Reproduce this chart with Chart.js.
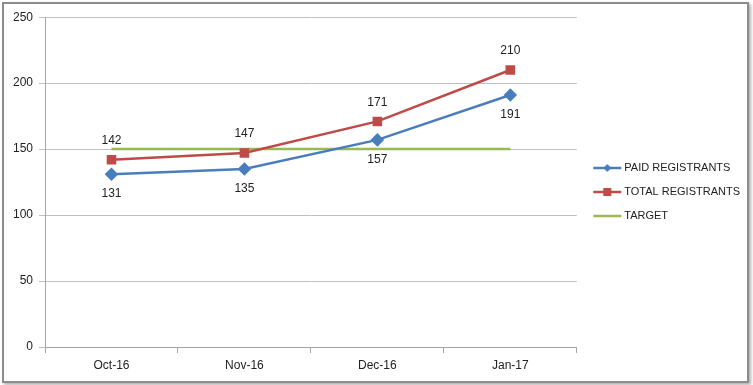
<!DOCTYPE html>
<html>
<head>
<meta charset="utf-8">
<script src="https://cdn.jsdelivr.net/npm/chart.js@4"></script>
<style>
	body { margin: 0; background: #fff; }
	#box {
		position: absolute; left: 2px; top: 2px; width: 743px; height: 377px;
		border: 2px solid #8c8c8c; box-shadow: 2px 2px 3px #b0b0b0; background: #fff;
	}
	#canvas { display: block; }
</style>
</head>
<body>
<div id="box"><canvas id="canvas" width="743" height="377"></canvas></div>
<script>
const meses = ["Oct-16", "Nov-16", "Dec-16", "Jan-17"];
const pagados = [131, 135, 157, 191];
const totales = [142, 147, 171, 210];
const objetivo = [150, 150, 150, 150];
const ticks_y = [0, 50, 100, 150, 200, 250];

const azul = "#4a7ebb";
const rojo = "#be4b48";
const verde = "#98b954";
const fuente = "'Liberation Sans', Arial, sans-serif";

// iconos de la leyenda: linea con marcador (parte izquierda transparente)
function icono(color, marca) {
	const c = document.createElement("canvas");
	c.width = 38; c.height = 12;
	const ctx = c.getContext("2d");
	ctx.strokeStyle = color;
	ctx.lineWidth = 2.5;
	ctx.beginPath(); ctx.moveTo(8, 6); ctx.lineTo(36, 6); ctx.stroke();
	ctx.fillStyle = color;
	if (marca == "diamante") {
		ctx.beginPath(); ctx.moveTo(22, 2); ctx.lineTo(26, 6); ctx.lineTo(22, 10); ctx.lineTo(18, 6); ctx.closePath(); ctx.fill();
	} else if (marca == "cuadro") {
		ctx.fillRect(18, 2, 8, 8);
	}
	return c;
}

// etiquetas de valores
const etiquetas = {
	id: "etiquetas",
	afterDatasetsDraw(chart) {
		const ctx = chart.ctx;
		ctx.save();
		ctx.font = "12px " + fuente;
		ctx.fillStyle = "#222";
		ctx.textAlign = "center";
		ctx.textBaseline = "middle";
		[0, 1].forEach((i) => {
			const meta = chart.getDatasetMeta(i);
			const dy = i == 0 ? 20 : -19;
			meta.data.forEach((p, j) => {
				ctx.fillText(chart.data.datasets[i].data[j], p.x, p.y + dy);
			});
		});
		ctx.restore();
	},
};

const grafico = new Chart(document.getElementById("canvas"), {
	type: "line",
	data: {
		labels: meses,
		datasets: [
			{
				label: "PAID REGISTRANTS",
				data: pagados,
				borderColor: azul,
				backgroundColor: azul,
				borderWidth: 2.5,
				pointStyle: "rectRot",
				pointRadius: 5,
				pointHoverRadius: 5,
			},
			{
				label: "TOTAL REGISTRANTS",
				data: totales,
				borderColor: rojo,
				backgroundColor: rojo,
				borderWidth: 2.5,
				pointStyle: "rect",
				pointRadius: 5,
				pointHoverRadius: 5,
			},
			{
				label: "TARGET",
				data: objetivo,
				borderColor: verde,
				backgroundColor: verde,
				borderWidth: 2.5,
				pointRadius: 0,
			},
		],
	},
	options: {
		responsive: false,
		animation: false,
		layout: { padding: { left: 3, top: 11, right: -3, bottom: 12 } },
		plugins: {
			tooltip: { enabled: false },
			legend: {
				position: "right",
				labels: {
					usePointStyle: true,
					pointStyleWidth: 29,
					color: "#222",
					font: { family: fuente, size: 11 },
					padding: 13,
					generateLabels(chart) {
						const marcas = ["diamante", "cuadro", "nada"];
						return chart.data.datasets.map((ds, i) => ({
							text: ds.label,
							pointStyle: icono(ds.borderColor, marcas[i]),
							datasetIndex: i,
							fontColor: "#222",
							lineWidth: 0,
						}));
					},
				},
			},
		},
		scales: {
			x: {
				offset: true,
				afterFit(axis) {
					axis.height = 22;
				},
				grid: { offset: true, drawOnChartArea: false, drawTicks: true, tickLength: 6, color: "#a6a6a6" },
				border: { color: "#a6a6a6" },
				ticks: { color: "#222", font: { family: fuente, size: 12 }, padding: 5 },
			},
			y: {
				min: 0,
				max: 250,
				afterBuildTicks(axis) {
					axis.ticks = ticks_y.map((v) => ({ value: v }));
				},
				grid: { color: "#bfbfbf", tickLength: 6 },
				border: { color: "#a6a6a6" },
				ticks: { color: "#222", font: { family: fuente, size: 12 }, padding: 6 },
			},
		},
	},
	plugins: [etiquetas],
});
</script>
</body>
</html>
